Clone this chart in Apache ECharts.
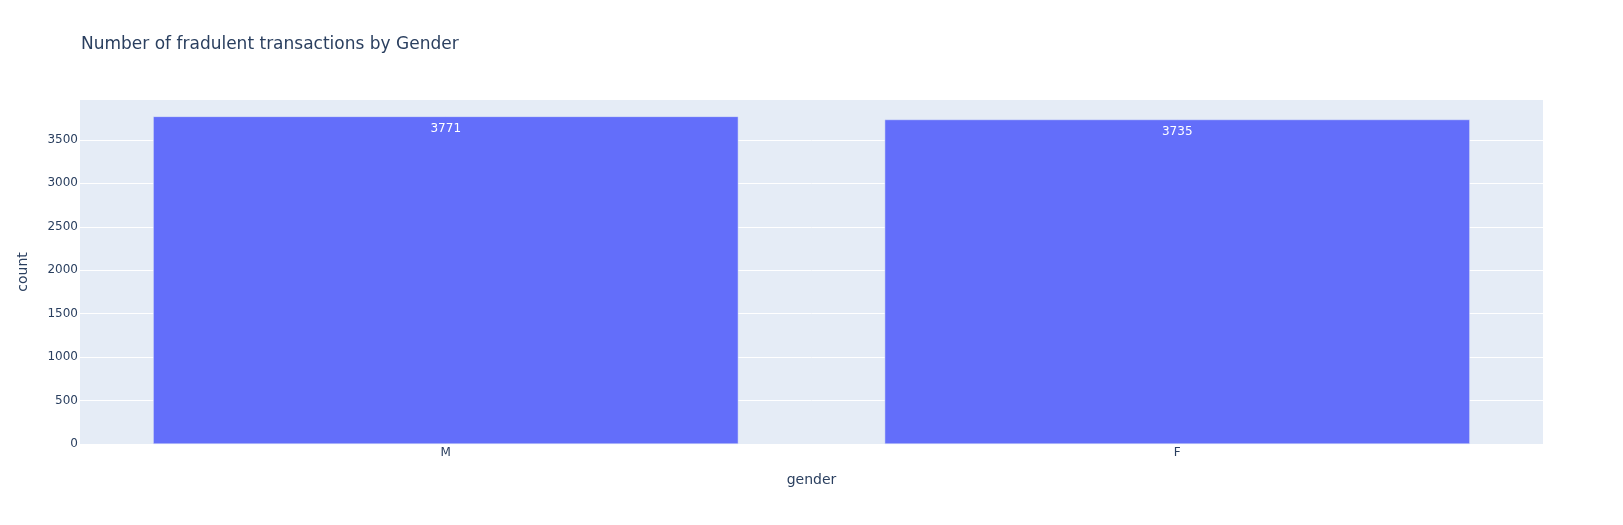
<!DOCTYPE html>
<html>
<head>
<meta charset="utf-8">
<script src="https://cdn.jsdelivr.net/npm/echarts@6/dist/echarts.min.js"></script>
<style>html,body{margin:0;padding:0;background:#fff}#c{width:1623px;height:525px}</style>
</head>
<body>
<div id="c"></div>
<script>
const categories = ["M", "F"];
const counts = [3771, 3735];
const yTicks = [0, 500, 1000, 1500, 2000, 2500, 3000, 3500];

const font = '"DejaVu Sans", Verdana, sans-serif';
const ink = '#2a3f5f';
const chart = echarts.init(document.getElementById('c'), null, {renderer: 'canvas'});
chart.setOption({
  animation: false,
  backgroundColor: '#fff',
  title: {
    text: 'Number of fradulent transactions by Gender',
    left: 81, top: 36, padding: 0,
    textStyle: {fontFamily: font, fontSize: 17, fontWeight: 'normal', color: ink}
  },
  grid: {left: 80, right: 80, top: 100, bottom: 81, show: true, backgroundColor: '#E5ECF6', borderWidth: 0, containLabel: false},
  xAxis: {
    type: 'category', data: categories,
    name: 'gender', nameLocation: 'middle', nameGap: 29,
    nameTextStyle: {fontFamily: font, fontSize: 14, color: ink},
    axisLine: {show: false}, axisTick: {show: false},
    axisLabel: {fontFamily: font, fontSize: 12, color: ink, margin: 3}
  },
  yAxis: {
    type: 'value', min: 0, max: Math.max(...counts) * 1.05, interval: 500,
    name: 'count', nameLocation: 'middle', nameGap: 50,
    nameTextStyle: {fontFamily: font, fontSize: 14, color: ink},
    axisLine: {show: false}, axisTick: {show: false},
    axisLabel: {fontFamily: font, fontSize: 12, color: ink, margin: 2,
      padding: [5, 0, 0, 0],
      showMaxLabel: false,
      formatter: v => yTicks.includes(v) ? String(v) : ''},
    splitLine: {show: true, showMaxLine: false, showMinLine: false, lineStyle: {color: '#ffffff', width: 1}}
  },
  series: [{
    type: 'bar', data: counts,
    barCategoryGap: '20%',
    itemStyle: {color: '#636EFA', borderColor: '#E5ECF6', borderWidth: 0.5},
    label: {show: true, position: 'insideTop', distance: 6, color: '#ffffff', fontFamily: font, fontSize: 12}
  }]
});
</script>
</body>
</html>
